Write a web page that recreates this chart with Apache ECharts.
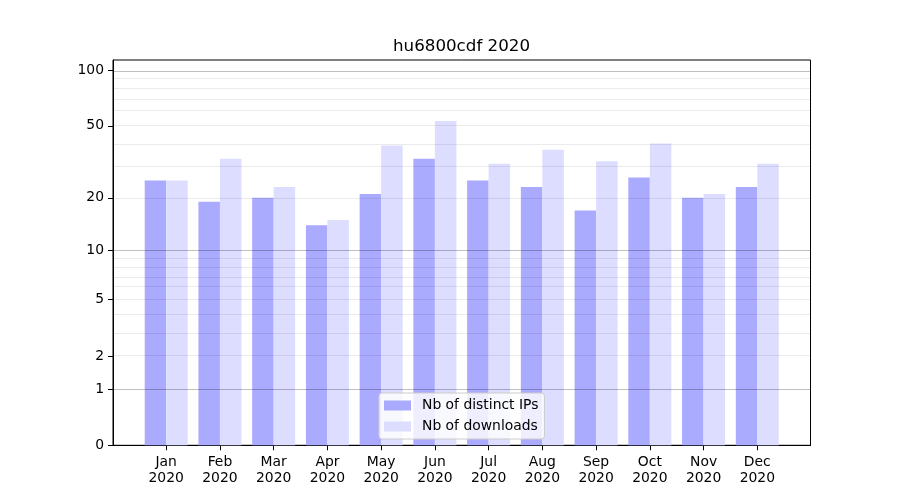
<!DOCTYPE html>
<html>
<head>
<meta charset="utf-8">
<script src="https://cdn.jsdelivr.net/npm/echarts@6/dist/echarts.min.js"></script>
<style>html,body{margin:0;padding:0;background:#fff}#c{width:900px;height:500px}</style>
</head>
<body>
<div id="c"></div>
<script>
const title = 'hu6800cdf 2020';
const months = ['Jan','Feb','Mar','Apr','May','Jun','Jul','Aug','Sep','Oct','Nov','Dec'];
const year = '2020';
const ips = [25, 19, 20, 14, 21, 33, 25, 23, 17, 26, 20, 23];
const downloads = [25, 33, 23, 15, 39, 53, 31, 37, 32, 40, 21, 31];
const yTicks = [0, 1, 2, 5, 10, 20, 50, 100];
const majorGrid = [1, 10, 100];
const minorGrid = [2, 3, 4, 5, 6, 7, 8, 9, 20, 30, 40, 50, 60, 70, 80, 90];
const seriesNames = ['Nb of distinct IPs', 'Nb of downloads'];

const tf = v => Math.log10(1 + v);
const inv = t => Math.round(Math.pow(10, t) - 1);
const FONT = 'DejaVu Sans';

const chart = echarts.init(document.getElementById('c'), null, {renderer: 'canvas'});
const gridLines = majorGrid.map(v => ({yAxis: tf(v), lineStyle: {color: 'rgba(0,0,0,0.25)', width: 1, type: 'solid'}}))
  .concat(minorGrid.map(v => ({yAxis: tf(v), lineStyle: {color: 'rgba(0,0,0,0.08)', width: 1, type: 'solid'}})));

chart.setOption({
  animation: false,
  backgroundColor: '#fff',
  title: {
    text: title, left: 388, top: 33,
    textStyle: {fontFamily: FONT, fontSize: 16.7, fontWeight: 'normal', color: '#000'}
  },
  legend: {
    orient: 'vertical', left: 379, top: 393, z: 10,
    padding: [5, 6, 5, 5],
    itemWidth: 27, itemHeight: 10, itemGap: 6,
    icon: 'rect',
    backgroundColor: 'rgba(255,255,255,0.8)', borderColor: '#cccccc', borderWidth: 1, borderRadius: 3,
    textStyle: {fontFamily: FONT, fontSize: 13.9, color: '#000', lineHeight: 15, padding: [0, 0, 0, 6]},
    data: seriesNames
  },
  grid: {left: 113, right: 89.5, top: 60, bottom: 54.7, show: true, borderColor: '#000', borderWidth: 1, containLabel: false},
  xAxis: {
    type: 'value', min: -0.99, max: 11.99,
    axisLine: {show: true, onZero: false, lineStyle: {color: '#000', width: 1}},
    axisTick: {show: true, length: 5, lineStyle: {color: '#000'}, customValues: months.map((m, i) => i)},
    axisLabel: {
      customValues: months.map((m, i) => i), margin: 9,
      fontFamily: FONT, fontSize: 13.9, color: '#000', lineHeight: 16,
      formatter: v => months[Math.round(v)] + '\n' + year
    },
    splitLine: {show: false}
  },
  yAxis: {
    type: 'value', min: 0, max: 2.059,
    axisLine: {show: true, onZero: false, lineStyle: {color: '#000', width: 1}},
    axisTick: {show: true, length: 5, lineStyle: {color: '#000'}, customValues: yTicks.map(tf)},
    axisLabel: {
      customValues: yTicks.map(tf), margin: 9,
      fontFamily: FONT, fontSize: 13.9, color: '#000',
      formatter: v => String(inv(v))
    },
    splitLine: {show: false}
  },
  series: [
    {
      name: seriesNames[0], type: 'bar', barWidth: '40%', barGap: '0%',
      itemStyle: {color: '#aaaaff'},
      data: ips.map((v, i) => [i, tf(v)])
    },
    {
      name: seriesNames[1], type: 'bar', barWidth: '40%', barGap: '0%',
      itemStyle: {color: '#ddddff'},
      data: downloads.map((v, i) => [i, tf(v)]),
      markLine: {
        silent: true, symbol: ['none', 'none'], label: {show: false},
        emphasis: {disabled: true}, animation: false,
        data: gridLines
      }
    }
  ]
});
</script>
</body>
</html>
